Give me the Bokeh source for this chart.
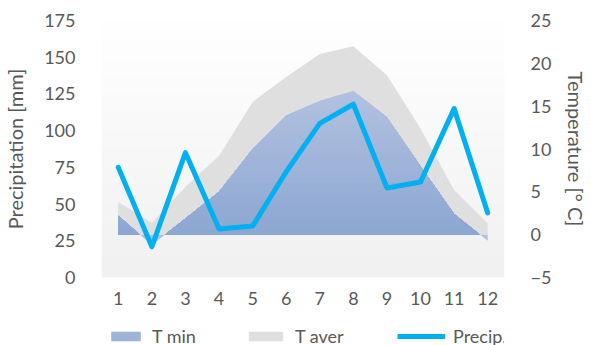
import numpy as np
from bokeh.plotting import figure
from bokeh.layouts import column
from bokeh.models import Range1d, LinearAxis, FixedTicker, Legend, LegendItem
from bokeh.embed import file_html
from bokeh.resources import INLINE

# Monthly climate values
months = [1, 2, 3, 4, 5, 6, 7, 8, 9, 10, 11, 12]
precip = [75, 21, 85, 33, 35, 72, 105, 118, 61, 65, 115, 44]           # mm
t_min = [2.2, -1.2, 1.9, 5.0, 10.0, 13.9, 15.6, 16.8, 13.7, 8.0, 2.4, -0.7]   # deg C
t_aver = [3.8, 1.4, 5.6, 9.2, 15.5, 18.4, 21.1, 22.0, 18.6, 12.4, 5.2, 1.3]   # deg C

precip_ticks = [0, 25, 50, 75, 100, 125, 150, 175]
temp_ticks = [-5, 0, 5, 10, 15, 20, 25]

FONT = "Lato"
TEXT = "#595959"
BLUE_TOP = (178, 193, 224)
BLUE_BOTTOM = (139, 166, 209)
BLUE_MID = tuple((a + b) / 2 for a, b in zip(BLUE_TOP, BLUE_BOTTOM))
GRAY = "#dfdfdf"
LINE = "#00b0f0"


def hex_color(rgb):
    return "#%02x%02x%02x" % tuple(int(round(c)) for c in rgb)


def split_at_levels(xs, ys, levels):
    """Add the exact points where each straight segment crosses a level,
    so that clipping the outline at that level stays piecewise linear."""
    px, py = [xs[0]], [ys[0]]
    for i in range(len(xs) - 1):
        x0, y0, x1, y1 = xs[i], ys[i], xs[i + 1], ys[i + 1]
        ts = sorted((lv - y0) / (y1 - y0) for lv in levels
                    if (y0 - lv) * (y1 - lv) < 0)
        for t in ts:
            px.append(x0 + t * (x1 - x0))
            py.append(y0 + t * (y1 - y0))
        px.append(x1)
        py.append(y1)
    return np.array(px, dtype=float), np.array(py, dtype=float)


p = figure(width=591, height=310, output_backend="svg", toolbar_location=None,
           x_range=Range1d(0.5, 12.5), y_range=Range1d(0, 175),
           min_border_left=99, min_border_right=76,
           min_border_top=20, min_border_bottom=33)
p.extra_y_ranges = {"temp": Range1d(-5, 25)}
p.background_fill_color = "white"
p.border_fill_color = "white"
p.outline_line_color = None
p.grid.visible = False

# plot-area background: soft vertical gradient, light gray at the bottom
n = 128
frac = np.linspace(0.0, 1.0, n)
bg = np.empty((n, 2), dtype=np.uint32)
view = bg.view(dtype=np.uint8).reshape((n, 2, 4))
shade = 241 + (255 - 241) * frac
for c in range(3):
    view[:, :, c] = shade[:, None].astype(np.uint8)
view[:, :, 3] = 255
p.image_rgba(image=[bg], x=0.5, y=0, dw=12, dh=175)

# T aver area (from 0 deg C)
p.varea(x=months, y1=0, y2=t_aver, fill_color=GRAY, y_range_name="temp")

# T min area, shaded in horizontal bands from dark (bottom) to light (top)
t_top = max(t_min)
bands = 30
edges = np.linspace(0, t_top, bands + 1)
for k in range(bands, 0, -1):
    cap = edges[k]
    f = cap / t_top
    col = tuple(BLUE_BOTTOM[i] + f * (BLUE_TOP[i] - BLUE_BOTTOM[i]) for i in range(3))
    px, py = split_at_levels(months, t_min, [0.0, cap])
    p.varea(x=px, y1=0, y2=np.clip(py, 0, cap), fill_color=hex_color(col),
            y_range_name="temp")
px, py = split_at_levels(months, t_min, [0.0])
p.varea(x=px, y1=0, y2=np.minimum(py, 0), fill_color=hex_color(BLUE_TOP),
        y_range_name="temp")

# precipitation line
p.line(months, precip, line_color=LINE, line_width=5,
       line_join="round", line_cap="round")

# axes
p.xaxis.ticker = FixedTicker(ticks=months)
for ax in (p.xaxis[0], p.yaxis[0]):
    ax.axis_line_color = None
    ax.major_tick_line_color = None
    ax.minor_tick_line_color = None
    ax.major_label_text_font = FONT
    ax.major_label_text_font_size = "18px"
    ax.major_label_text_color = TEXT
p.xaxis.major_label_standoff = 8

p.yaxis.ticker = FixedTicker(ticks=precip_ticks)
p.yaxis.major_label_standoff = 20
p.yaxis.axis_label = "Precipitation [mm]"
p.yaxis.axis_label_text_font = FONT
p.yaxis.axis_label_text_font_size = "20px"
p.yaxis.axis_label_text_font_style = "normal"
p.yaxis.axis_label_text_color = TEXT
p.yaxis.axis_label_standoff = 14

right = LinearAxis(y_range_name="temp", ticker=FixedTicker(ticks=temp_ticks),
                   axis_label="Temperature [° C]")
right.axis_line_color = None
right.major_tick_line_color = None
right.minor_tick_line_color = None
right.major_label_text_font = FONT
right.major_label_text_font_size = "18px"
right.major_label_text_color = TEXT
right.major_label_standoff = 20
right.axis_label_orientation = "vertical"
right.axis_label_text_font = FONT
right.axis_label_text_font_size = "20px"
right.axis_label_text_font_style = "normal"
right.axis_label_text_color = TEXT
right.axis_label_standoff = 10
p.add_layout(right, "right")

# legend strip under the chart; the keys are empty renderers that carry
# the chart's styles
leg = figure(width=591, height=35, output_backend="svg", toolbar_location=None,
             x_range=Range1d(0, 1), y_range=Range1d(0, 1),
             min_border_left=99, min_border_right=0,
             min_border_top=0, min_border_bottom=0)
leg.axis.visible = False
leg.grid.visible = False
leg.outline_line_color = None
leg.background_fill_color = "white"
leg.border_fill_color = "white"
nan = [float("nan")]
key_min = leg.varea(x=nan, y1=nan, y2=nan, fill_color=hex_color(BLUE_MID))
key_aver = leg.varea(x=nan, y1=nan, y2=nan, fill_color=GRAY)
key_precip = leg.line(x=nan, y=nan, line_color=LINE, line_width=5)

for label, rend, gw, x in (("T min", key_min, 37, 6),
                           ("T aver", key_aver, 43, 143),
                           ("Precip.", key_precip, 48, 296)):
    lg = Legend(items=[LegendItem(label=label, renderers=[rend])],
                location=(x, -2), glyph_width=gw, glyph_height=12,
                label_standoff=8, label_width=75, padding=0, margin=0,
                spacing=0, border_line_color=None, background_fill_alpha=0,
                label_text_font=FONT, label_text_font_size="18px",
                label_text_color=TEXT)
    leg.add_layout(lg)

open("out.html", "w").write(file_html(column(p, leg, spacing=0), INLINE))
